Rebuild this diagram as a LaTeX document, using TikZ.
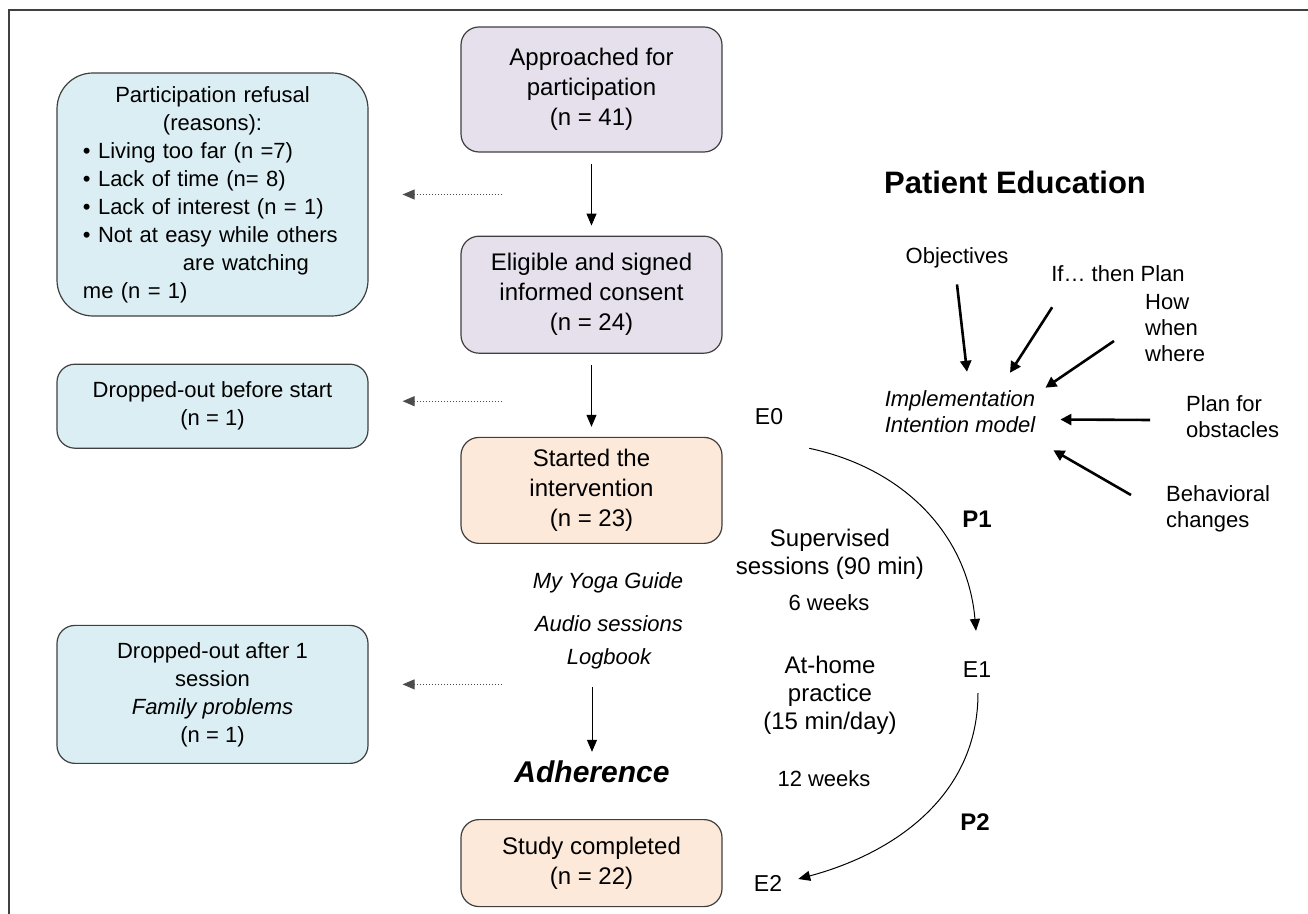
\documentclass[tikz,border=0pt]{standalone}
\usepackage{fontspec}
\setmainfont{Liberation Sans}
\usetikzlibrary{arrows.meta, positioning}

\definecolor{lilac}{HTML}{E5E0EC}
\definecolor{skyblue}{HTML}{DBEEF4}
\definecolor{peach}{HTML}{FDE9D9}
\definecolor{edgegray}{HTML}{3F3F3F}

\tikzset{
	box/.style		= {draw=edgegray, line width=0.6pt, rounded corners=9pt, minimum width=130.5pt},
	stage/.style	= {box, fill=lilac, align=center, font=\fontsize{12}{15}\selectfont},
	trial/.style	= {box, fill=peach, align=center, font=\fontsize{12}{15}\selectfont},
	loss/.style		= {box, fill=skyblue, align=center, minimum width=155.5pt, font=\fontsize{11}{14}\selectfont},
	note/.style		= {align=center, font=\fontsize{12}{14}\selectfont},
	small/.style	= {align=center, font=\fontsize{11}{13}\selectfont},
	tool/.style		= {font=\fontsize{11}{13}\selectfont\itshape},
	phase/.style	= {font=\fontsize{12}{14}\selectfont\bfseries},
	visit/.style	= {font=\fontsize{11.5}{14}\selectfont},
	push/.style		= {-{Triangle[length=5.5pt,width=5.5pt]}, line width=1.3pt},
	lost/.style		= {densely dotted, line width=0.5pt, black!70, shorten <=-21pt, shorten >=17pt},
	frame/.style	= {-, line width=1pt, black!75}
}

\begin{document}
\begin{tikzpicture}[x=0.5pt, y=-0.5pt, ->, >={Triangle[length=6pt,width=5pt]}, node distance=41.5pt, line width=0.5pt]
	\useasboundingbox (0,0) rectangle (1308,914);
	\draw[frame] (8.5,914) |- (1308,10.5);

	% main flow
	\node[stage, minimum height=62.5pt]		(app)	at (591.5,89.5)		{Approached for\\participation\\(n = 41)};
	\node[stage, minimum height=58.5pt]		(eli)	[below=of app]		{Eligible and signed\\informed consent\\(n = 24)};
	\node[trial, minimum height=53pt]		(sta)	[below=of eli]		{Started the\\intervention\\(n = 23)};
	\node[trial, minimum height=43.5pt]		(stu)	[below=137.5pt of sta]	{Study completed\\(n = 22)};

	% losses
	\node[loss, minimum height=121.5pt, rounded corners=18pt, text width=129.5pt, align=left]	(ref)	at (212.5,194.5)
		{{\centering Participation refusal\\(reasons):\par}
		\textbullet{} Living too far (n =7)\\
		\textbullet{} Lack of time (n= 8)\\
		\textbullet{} Lack of interest (n = 1)\\
		\textbullet{} Not at easy while others\\
		\hspace*{50pt}are watching\\
		me (n = 1)};
	\node[loss, minimum height=42pt]		(dpb)	[below=23.5pt of ref]	{Dropped-out before start\\(n = 1)};
	\node[loss, minimum height=69pt]		(dpa)	[below=88pt of dpb]		{Dropped-out after 1\\session\\\textit{Family problems}\\(n = 1)};

	% tools and adherence
	\node[tool]		(guide)	at (608,583)	{My Yoga Guide};
	\node[tool]		(audio)	at (609,624)	{Audio sessions};
	\node[tool]		(logb)	at (609,659)	{Logbook};
	\node[font=\fontsize{15}{18}\selectfont\bfseries\itshape]	(adh)	at (592,772)	{Adherence};

	% periods
	\node[note]		(sup)	at (830,554)	{Supervised\\sessions (90 min)};
	\node[small]	(wk6)	at (829,603)	{6 weeks};
	\node[note]		(home)	at (830,695)	{At-home\\practice\\(15 min/day)};
	\node[small]	(wk12)	at (824,779)	{12 weeks};
	\node[visit]	(e0)	at (769,417)	{E0};
	\node[visit]	(e1)	at (977,670)	{E1};
	\node[visit]	(e2)	at (768,883)	{E2};
	\node[phase]	(p1)	at (977,519)	{P1};
	\node[phase]	(p2)	at (975,822)	{P2};

	% patient education
	\node[font=\fontsize{15.5}{18}\selectfont\bfseries]	(pe)	at (1015,182)	{Patient Education};
	\node[small]					(obj)	at (957,258)	{Objectives};
	\node[small]					(ift)	at (1118,274)	{If… then Plan};
	\node[small, anchor=west, align=left]	(how)	at (1138,328)	{How\\when\\where};
	\node[small, anchor=west, align=left]	(pfo)	at (1179,416.5)	{Plan for\\obstacles};
	\node[small, anchor=west, align=left]	(beh)	at (1159,509)	{Behavioral\\changes};
	\node[small, font=\fontsize{11}{13}\selectfont\itshape]	(imp)	at (960,412)	{Implementation\\Intention model};

	\path[shorten <=5.5pt, shorten >=5pt]	(app)	edge	(eli);
	\path[shorten <=5.5pt, shorten >=5pt]	(eli)	edge	(sta);
	\draw[shorten <=5.2pt, shorten >=1pt]	(logb.south -| adh.north)	--	(adh.north);

	\draw[lost]	(ref.east -| app.west)	--	(ref.east);
	\draw[lost]	([yshift=2.5pt]dpb.east -| eli.west)	--	([yshift=2.5pt]dpb.east);
	\draw[lost]	([yshift=5pt]dpa.east -| sta.west)	--	([yshift=5pt]dpa.east);

	\draw	([shift={(19,16)}]e0.south east)	to[out=-12, in=95]	([shift={(-1,-24)}]e1.north);
	\draw	([shift={(1,8)}]e1.south)	to[out=-90, in=15]	([shift={(9,-4)}]e2.east);

	\draw[push]	([shift={(0,9)}]obj.south)		--	([shift={(7,-12)}]imp.north);
	\draw[push]	([shift={(8,18)}]ift.south west)	--	([shift={(50,-11)}]imp.north);
	\draw[push]	([shift={(-24,13)}]how.west)		--	([shift={(3,4)}]imp.north east);
	\draw[push]	([shift={(-29,3.5)}]pfo.west)	--	([shift={(18,7.5)}]imp.east);
	\draw[push]	([shift={(-28,-14)}]beh.west)	--	([shift={(11,10)}]imp.south east);
\end{tikzpicture}
\end{document}
